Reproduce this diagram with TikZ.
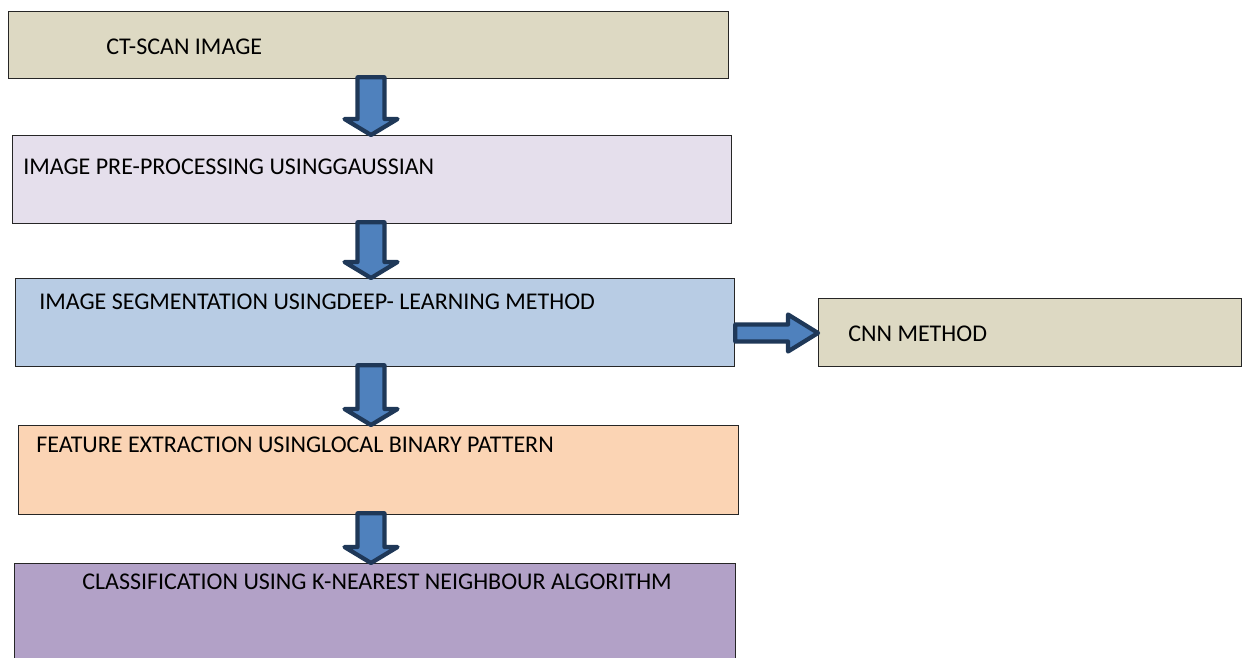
\documentclass[tikz,border=0pt]{standalone}
\usepackage{fontspec}
\setmainfont{Carlito}
\usepackage{tikz}
\usetikzlibrary{calc,positioning}
\usepackage{xcolor}

\definecolor{tanbox}{HTML}{DDD9C3}
\definecolor{lavbox}{HTML}{E5DFEC}
\definecolor{bluebox}{HTML}{B8CCE4}
\definecolor{peachbox}{HTML}{FBD4B4}
\definecolor{purplebox}{HTML}{B2A1C7}
\definecolor{arrowfill}{HTML}{4F81BD}
\definecolor{arrowedge}{HTML}{1F3858}

% one pixel of the layout
\newcommand{\pxu}{0.75pt}

\tikzset{
  box/.style={draw=black!85, line width=1pt, rectangle, anchor=north west, inner sep=0pt},
  lbl/.style={anchor=base west, inner sep=0pt, font=\fontsize{18}{21}\selectfont},
  blockarr/.style={draw=arrowedge, fill=arrowfill, line width=3.2pt, line join=round},
}

% block arrow going down from box #1 to box #2
\newcommand{\flowdown}[2]{%
  \draw[blockarr] ($(#1.south -| axis)+(-13.5,-2)$) -- ($(#1.south -| axis)+(13.5,-2)$)
    -- ($(#2.north -| axis)+(13.5,-16)$) -- ++(13,0) -- (#2.north -| axis)
    -- ++(-26.5,-16) -- ++(13,0) -- cycle;
}
% block arrow going right from box #1 to box #2
\newcommand{\flowright}[2]{%
  \draw[blockarr] ($(#1.east |- level)+(0,-8.5)$) -- ($(#2.west |- level)+(-30,-8.5)$)
    -- ++(0,-10) -- (#2.west |- level) -- ++(-30,18.5) -- ++(0,-10)
    -- ($(#1.east |- level)+(0,8.5)$) -- cycle;
}

\begin{document}
\begin{tikzpicture}[x=0.75pt, y=-0.75pt]
    \useasboundingbox (0,0) rectangle (1242,657);
    \clip (0,0) rectangle (1242,657);

    % Cajas
    \node[box, fill=tanbox, minimum width=720*\pxu, minimum height=67*\pxu] (ct) at (8,11) {};
    \node[box, fill=lavbox, minimum width=719*\pxu, minimum height=88*\pxu] (pre) at (12,135) {};
    \node[box, fill=bluebox, minimum width=719*\pxu, minimum height=88*\pxu] (seg) at (15,278) {};
    \node[box, fill=tanbox, minimum width=423*\pxu, minimum height=68*\pxu] (cnn) at (818,298) {};
    \node[box, fill=peachbox, minimum width=720*\pxu, minimum height=89*\pxu] (feat) at (18,425) {};
    \node[box, fill=purplebox, minimum width=721*\pxu, minimum height=100*\pxu] (cls) at (14,563) {};

    % Textos
    \node[lbl] (ctT) at ($(ct.north west)+(98,43)$) {CT-SCAN IMAGE};
    \node[lbl] (preT) at ($(pre.north west)+(11,39)$) {IMAGE PRE-PROCESSING USINGGAUSSIAN};
    \node[lbl] (segT) at ($(seg.north west)+(24,31)$) {IMAGE SEGMENTATION USINGDEEP- LEARNING METHOD};
    \node[lbl] (cnnT) at ($(cnn.north west)+(30,43)$) {CNN METHOD};
    \node[lbl] (featT) at ($(feat.north west)+(18,27)$) {FEATURE EXTRACTION USINGLOCAL BINARY PATTERN};
    \node[lbl] (clsT) at ($(cls.north west)+(68,26)$) {CLASSIFICATION USING K-NEAREST NEIGHBOUR ALGORITHM};

    % Flechas
    \coordinate (axis) at (371,0);
    \coordinate (level) at (0,333);
    \foreach \a/\b in {ct/pre, pre/seg, seg/feat, feat/cls}
        \flowdown{\a}{\b};
    \flowright{seg}{cnn}

\end{tikzpicture}
\end{document}
